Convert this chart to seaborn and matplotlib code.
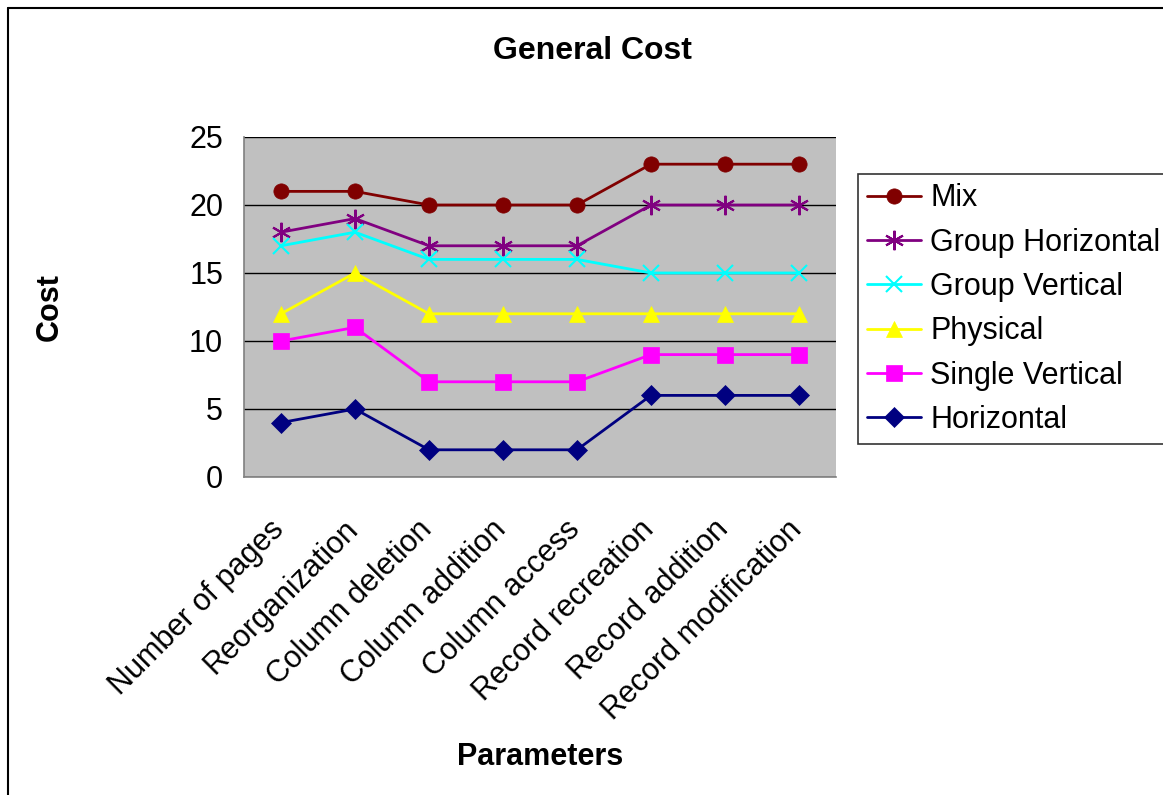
import pandas as pd
import seaborn as sns
import matplotlib.pyplot as plt
import matplotlib.transforms as mtransforms
from matplotlib.lines import Line2D

# Chart data
categories = ['Number of pages', 'Reorganization', 'Column deletion', 'Column addition',
              'Column access', 'Record recreation', 'Record addition', 'Record modification']
mix = [21, 21, 20, 20, 20, 23, 23, 23]
group_horizontal = [18, 19, 17, 17, 17, 20, 20, 20]
group_vertical = [17, 18, 16, 16, 16, 15, 15, 15]
physical = [12, 15, 12, 12, 12, 12, 12, 12]
single_vertical = [10, 11, 7, 7, 7, 9, 9, 9]
horizontal = [4, 5, 2, 2, 2, 6, 6, 6]

series_names = ['Mix', 'Group Horizontal', 'Group Vertical', 'Physical',
                'Single Vertical', 'Horizontal']
series_values = [mix, group_horizontal, group_vertical, physical,
                 single_vertical, horizontal]

colors = ['#800000', '#800080', '#00FFFF', '#FFFF00', '#FF00FF', '#000080']
markers = ['o', (6, 2, 0), 'x', '^', 's', 'D']
msizes = [11, 14, 12, 12, 11, 10]

rows = []
for name, vals in zip(series_names, series_values):
    for cat, v in zip(categories, vals):
        rows.append({'Parameters': cat, 'Cost': v, 'series': name})
df = pd.DataFrame(rows)

sns.set_style('white')
plt.rcParams['font.family'] = ['Liberation Sans', 'DejaVu Sans']
plt.rcParams['text.color'] = 'black'
plt.rcParams['axes.labelcolor'] = 'black'
plt.rcParams['xtick.color'] = 'black'
plt.rcParams['ytick.color'] = 'black'

fig = plt.figure(figsize=(11.63, 7.95), dpi=100)
ax = fig.add_axes([0.2098, 0.40, 0.509, 0.4277])
ax.set_facecolor('#C0C0C0')

for name, col, mk, ms in zip(series_names, colors, markers, msizes):
    sub = df[df['series'] == name]
    thin = mk == 'x' or isinstance(mk, tuple)
    sns.lineplot(data=sub, x='Parameters', y='Cost', ax=ax, color=col, marker=mk,
                 markersize=ms, markeredgecolor=col, markeredgewidth=1.5 if thin else 0.5,
                 linewidth=2, label=name, sort=False)

ax.set_xlim(-0.5, len(categories) - 0.5)
ax.set_ylim(0, 25)
ax.set_yticks([0, 5, 10, 15, 20, 25])
ax.yaxis.grid(True, color='black', linewidth=1)
ax.set_axisbelow(True)
for s in ['top', 'right']:
    ax.spines[s].set_visible(False)
for s in ['left', 'bottom']:
    ax.spines[s].set_color('#808080')
    ax.spines[s].set_linewidth(1.2)

ax.set_xticks(range(len(categories)))
ax.set_xticklabels(categories, rotation=45, ha='right', rotation_mode='anchor', fontsize=22)
ax.tick_params(axis='x', length=0, pad=27)
shift = mtransforms.ScaledTranslation(-12 / 100, 0, fig.dpi_scale_trans)
for lbl in ax.get_xticklabels():
    lbl.set_transform(lbl.get_transform() + shift)
ax.set_xticks([i + 0.5 for i in range(-1, len(categories))], minor=True)
ax.tick_params(axis='x', which='minor', length=6, color='#808080', width=1.2, direction='out')
ax.tick_params(axis='y', labelsize=22, length=6, color='#808080', width=1.2, direction='out', pad=9)

ax.set_xlabel('Parameters', fontsize=22, fontweight='bold', labelpad=0)
ax.xaxis.set_label_coords(0.5, -0.78)
ax.set_ylabel('Cost', fontsize=22, fontweight='bold')
ax.yaxis.set_label_coords(-0.302, 0.5)
fig.text(0.509, 0.936, 'General Cost', ha='center', va='center', fontsize=23, fontweight='bold')

leg = ax.legend(loc='upper left', bbox_to_anchor=(0.738, 0.781), bbox_transform=fig.transFigure,
                fontsize=22, frameon=True, fancybox=False, borderpad=0.3, labelspacing=0.47,
                handlelength=1.75, handletextpad=0.3, borderaxespad=0)
leg.get_frame().set_edgecolor('black')
leg.get_frame().set_linewidth(1.2)

# outer chart border (top and left only visible)
fig.add_artist(Line2D([8 / 1163, 1], [1 - 8 / 795, 1 - 8 / 795], transform=fig.transFigure,
                      color='black', linewidth=1.5))
fig.add_artist(Line2D([8 / 1163, 8 / 1163], [0, 1 - 8 / 795], transform=fig.transFigure,
                      color='black', linewidth=1.5))

fig.savefig('out.png', dpi=100)
